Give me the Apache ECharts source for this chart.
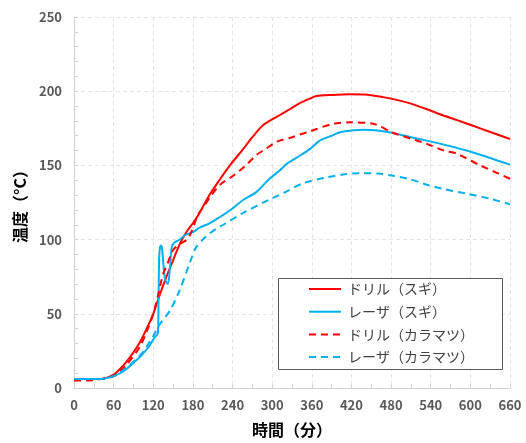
<!DOCTYPE html>
<html><head><meta charset="utf-8">
<script src="https://cdn.jsdelivr.net/npm/echarts@6/dist/echarts.min.js"></script>
<style>html,body{margin:0;padding:0;background:#fff}#c{width:526px;height:443px}</style>
</head><body><div id="c"></div>
<script>
const seriesNames = ['ドリル（スギ）', 'レーザ（スギ）', 'ドリル（カラマツ）', 'レーザ（カラマツ）'];
const xTicks = [0,60,120,180,240,300,360,420,480,540,600,660];
const yTicks = [0,50,100,150,200,250];

const drillSugiT = [0,20,40,50,60,70,80,90,100,110,120,130,140,150,160,170,180,190,205,220,236,256,270,286,300,312,327,342,357,367,390,418,440,468,490,509,530,554,580,604,630,660];
const drillSugiV = [6,6,6,7,9,13,18,24,31,40,50,63,75,86,97,105,111,118,130,140,150,161,169,177,181,184,188,192,195,196.7,197.5,198,197.8,196,194,191.8,188.5,184.5,180.5,176.7,172.5,167.8];

const laserSugiT = [0,20,40,60,70,80,90,100,110,115,122,127,128,129,131,133,135,138,142,145,148,152,160,168,180,190,205,226,240,256,276,296,310,322,340,357,372,390,403,420,438,460,483,510,534,560,594,630,660];
const laserSugiV = [6,6,6,8,10,13,17,21,26,29,34,37,60,88,96,95,85,73,70,80,95,98,100,103,105,108,111,116.7,121,126.7,132,141,146,151,156,161,166.7,170,172.3,173.5,174,173.5,171.8,169,166.7,164,160,155,150.5];

const drillKaraT = [0,20,40,60,80,100,110,120,127,130,135,140,150,160,173,188,196,205,221,241,260,276,290,307,330,357,392,418,453,483,510,534,560,579,615,640,660];
const drillKaraV = [5,5,6,8,16,28,38,50,62,68,77,82,93,97,101,117,122,128,137,143,150,157,161,166,169,173,178,179,178,172,168,164.5,160,158,150,145,141];

const laserKaraT = [0,20,40,60,80,100,110,120,130,145,160,175,185,195,205,218,226,256,296,320,347,383,410,433,460,483,510,534,560,594,630,660];
const laserKaraV = [6,6,6,8,14,22,28,35,43,52,66,84,95,100,104,108,110,118,127,132,138,142,144,144.7,144.5,143,140.5,137,134,131,127.5,123.8];

const zip = (t, v) => t.map((x, i) => [x, v[i]]);
const RED = '#ff0000', BLUE = '#00b0f0';
const labelFont = {fontFamily: '"Noto Sans CJK JP"', fontWeight: 'bold', fontSize: 13, color: '#595959'};

const chart = echarts.init(document.getElementById('c'), null, {renderer: 'canvas'});
function mk(name, data, color, dashed) {
  return {
    name, type: 'line', data, symbol: 'none', smooth: 0.3,
    lineStyle: {color, width: 2, type: dashed ? [7, 5] : 'solid'},
    itemStyle: {color}
  };
}
chart.setOption({
  animation: false,
  backgroundColor: '#fff',
  grid: {left: 74, right: 16, top: 17, bottom: 51},
  xAxis: {
    type: 'value', min: 0, max: 660, interval: 60,
    name: '時間（分）', nameLocation: 'middle', nameGap: 34,
    nameTextStyle: {fontFamily: '"Noto Sans CJK JP"', fontWeight: 'bold', fontSize: 16, color: '#000'},
    axisLine: {lineStyle: {color: '#d0d0d0'}},
    axisTick: {show: true, inside: true, length: 4, lineStyle: {color: '#d0d0d0'}},
    minorTick: {show: true, splitNumber: 2, length: 4, lineStyle: {color: '#d0d0d0'}},
    axisLabel: Object.assign({margin: 11, customValues: xTicks}, labelFont),
    splitLine: {show: true, lineStyle: {color: '#e4e4e4', type: [4, 3]}}
  },
  yAxis: {
    type: 'value', min: 0, max: 250, interval: 50,
    name: '温度（°C）', nameLocation: 'middle', nameGap: 46, nameRotate: 90,
    nameTextStyle: {fontFamily: '"Noto Sans CJK JP"', fontWeight: 'bold', fontSize: 16, color: '#000'},
    axisLine: {show: true, lineStyle: {color: '#d0d0d0'}},
    axisTick: {show: true, inside: true, length: 4, lineStyle: {color: '#d0d0d0'}},
    minorTick: {show: true, splitNumber: 5, length: 4, lineStyle: {color: '#d0d0d0'}},
    axisLabel: Object.assign({margin: 12, customValues: yTicks}, labelFont),
    splitLine: {show: true, lineStyle: {color: '#e4e4e4', type: [4, 3]}}
  },
  graphic: [{
    type: 'rect', left: 278, top: 278, z: 50,
    shape: {width: 224, height: 91},
    style: {fill: '#fff', stroke: '#595959', lineWidth: 1}
  }],
  legend: {
    orient: 'vertical', left: 308, top: 282, padding: 0, z: 60,
    itemWidth: 32, itemHeight: 14, itemGap: 8.7,
    itemStyle: {opacity: 0},
    textStyle: {fontFamily: '"Noto Sans CJK JP"', fontSize: 14, color: '#404040', padding: [0, 0, 0, 2]},
    data: seriesNames
  },
  series: [
    mk(seriesNames[0], zip(drillSugiT, drillSugiV), RED, false),
    mk(seriesNames[1], zip(laserSugiT, laserSugiV), BLUE, false),
    mk(seriesNames[2], zip(drillKaraT, drillKaraV), RED, true),
    mk(seriesNames[3], zip(laserKaraT, laserKaraV), BLUE, true)
  ]
});
</script></body></html>
